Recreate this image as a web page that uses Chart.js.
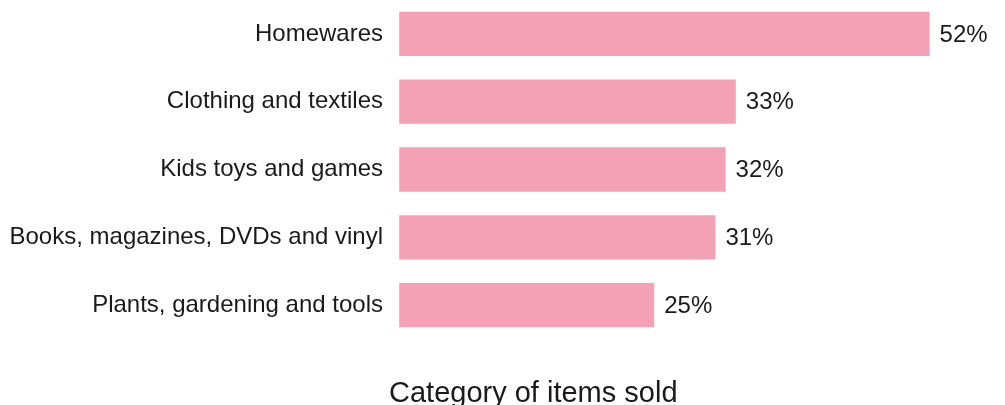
<!DOCTYPE html>
<html>
<head>
<meta charset="utf-8">
<script src="https://cdn.jsdelivr.net/npm/chart.js@4/dist/chart.umd.min.js"></script>
<style>
  html, body { margin: 0; padding: 0; background: #ffffff; }
  #wrap { width: 1005px; height: 405px; }
</style>
</head>
<body>
<div id="wrap"><canvas id="chart"></canvas></div>
<script>
// Share of sellers by category of items sold (%)
const categories = [
  'Homewares',
  'Clothing and textiles',
  'Kids toys and games',
  'Books, magazines, DVDs and vinyl',
  'Plants, gardening and tools'
];
const shares = [52, 33, 32, 31, 25];
const axisTitle = 'Category of items sold';

const BAR_COLOR = 'rgb(244,160,181)';
const TEXT_COLOR = '#1a1a1a';
const FONT = "'Liberation Sans', Arial, Helvetica, sans-serif";

// Writes the percentage just past the end of each bar
const valueLabels = {
  id: 'valueLabels',
  afterDatasetsDraw(chart) {
    const { ctx } = chart;
    const meta = chart.getDatasetMeta(0);
    ctx.save();
    ctx.font = `24px ${FONT}`;
    ctx.fillStyle = TEXT_COLOR;
    ctx.textAlign = 'left';
    ctx.textBaseline = 'middle';
    meta.data.forEach((bar, i) => {
      ctx.fillText(shares[i] + '%', bar.x + 10, bar.y + 1);
    });
    ctx.restore();
  }
};

new Chart(document.getElementById('chart'), {
  type: 'bar',
  data: {
    labels: categories,
    datasets: [{
      data: shares,
      backgroundColor: BAR_COLOR,
      borderWidth: 0,
      categoryPercentage: 1,
      barPercentage: 0.653
    }]
  },
  plugins: [valueLabels],
  options: {
    indexAxis: 'y',
    responsive: true,
    maintainAspectRatio: false,
    animation: false,
    layout: { padding: { left: 0, right: 4, top: 0, bottom: 0 } },
    plugins: {
      legend: { display: false },
      tooltip: { enabled: false }
    },
    scales: {
      x: {
        min: -1,
        max: 59,
        grid: { display: false, drawTicks: false },
        border: { display: false },
        ticks: { display: false },
        title: {
          display: true,
          text: axisTitle,
          align: 'start',
          color: TEXT_COLOR,
          font: { family: FONT, size: 29 },
          padding: { top: 37.2, bottom: -6 }
        }
      },
      y: {
        grid: { display: false, drawTicks: false },
        border: { display: false },
        ticks: {
          color: TEXT_COLOR,
          padding: 6,
          font: { family: FONT, size: 24 }
        },
        afterFit(scale) {
          // fixed label column; category bands fill the full plot height
          scale.width = 389;
          scale.paddingTop = 0;
          scale.paddingBottom = 0;
        }
      }
    }
  }
});
</script>
</body>
</html>
